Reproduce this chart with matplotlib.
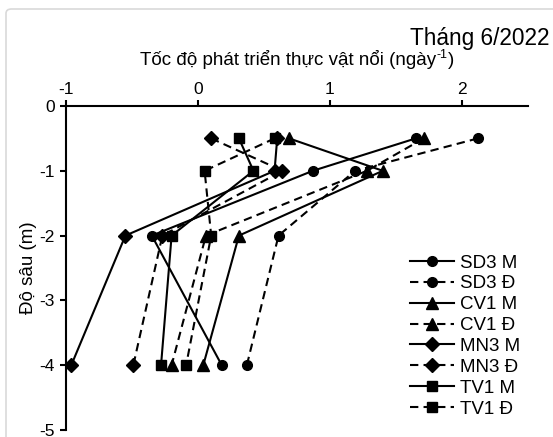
import matplotlib
matplotlib.use("Agg")
import matplotlib.pyplot as plt
from matplotlib.patches import FancyBboxPatch

plt.rcParams["font.family"] = ["Liberation Sans", "DejaVu Sans"]
plt.rcParams["axes.unicode_minus"] = False

depth = [-0.5, -1, -2, -4]

# growth rate of phytoplankton at each depth (ngày^-1)
sd3_m = [1.65, 0.87, -0.35, 0.18]
sd3_d = [2.12, 1.19, 0.61, 0.37]
cv1_m = [0.69, 1.40, 0.31, 0.04]
cv1_d = [1.71, 1.28, 0.06, -0.20]
mn3_m = [0.60, 0.58, -0.55, -0.96]
mn3_d = [0.10, 0.64, -0.27, -0.49]
tv1_m = [0.31, 0.42, -0.20, -0.28]
tv1_d = [0.58, 0.05, 0.10, -0.09]

series = [
    ("SD3 M", sd3_m, "o", "-"),
    ("SD3 Đ", sd3_d, "o", "--"),
    ("CV1 M", cv1_m, "^", "-"),
    ("CV1 Đ", cv1_d, "^", "--"),
    ("MN3 M", mn3_m, "D", "-"),
    ("MN3 Đ", mn3_d, "D", "--"),
    ("TV1 M", tv1_m, "s", "-"),
    ("TV1 Đ", tv1_d, "s", "--"),
]
msize = {"o": 7, "^": 8, "D": 7, "s": 7}

W, H = 553, 437
fig = plt.figure(figsize=(W / 100, H / 100), dpi=100)
# light grey frame of the chart area, running off the right and bottom edge
fig.patches.append(FancyBboxPatch((6 / W, -0.2), 1.2, 1.2 - 9 / H,
                                  boxstyle="round,pad=0,rounding_size=0.01",
                                  transform=fig.transFigure, fill=False,
                                  edgecolor="#d9d9d9", linewidth=1.2))

ax = fig.add_axes([66 / W, 1 - 430 / H, (528 - 66) / W, (430 - 106) / H])

for name, vals, mk, ls in series:
    ax.plot(vals, depth, color="black", linestyle=ls, linewidth=1.5,
            marker=mk, markersize=msize[mk], label=name,
            dashes=(4, 2.5) if ls == "--" else (None, None))

ax.set_xlim(-1, 2.5)
ax.set_ylim(-5, 0)
ax.set_xticks([-1, 0, 1, 2])
ax.set_yticks([0, -1, -2, -3, -4, -5])
ax.xaxis.tick_top()
ax.spines["right"].set_visible(False)
ax.spines["bottom"].set_visible(False)
for s in ["top", "left"]:
    ax.spines[s].set_linewidth(1.5)
ax.tick_params(axis="both", labelsize=12.5, width=1.5, length=4)
ax.tick_params(axis="x", pad=2.5)
ax.tick_params(axis="y", pad=4)

ax.set_ylabel("Độ sâu (m)", fontsize=13.5, labelpad=2)

fig.text(549 / W, 1 - 27 / H, "Tháng 6/2022", fontsize=16.3, ha="right", va="top")

# x label with a raised "-1" (hyphen, as in the source), built from pieces
renderer = fig.canvas.get_renderer()
base_y = 1 - 65 / H
parts = [("Tốc độ phát triển thực vật nổi (ngày", 13.5, 0),
         ("-1", 9, 6.5),
         (")", 13.5, 0)]
texts = [fig.text(0, base_y, s, fontsize=fs, va="baseline") for s, fs, _ in parts]
widths = [t.get_window_extent(renderer).width for t in texts]
x = 297 - sum(widths) / 2
for t, w, (_, _, rise) in zip(texts, widths, parts):
    t.set_position((x / W, base_y + rise / H))
    x += w

ax.legend(loc="upper left", bbox_to_anchor=(401 / W, 1 - 245 / H),
          bbox_transform=fig.transFigure, frameon=False, fontsize=13.5,
          handlelength=2.35, handletextpad=0.3, labelspacing=0.2, borderpad=0)

fig.savefig("out.png", dpi=100)
